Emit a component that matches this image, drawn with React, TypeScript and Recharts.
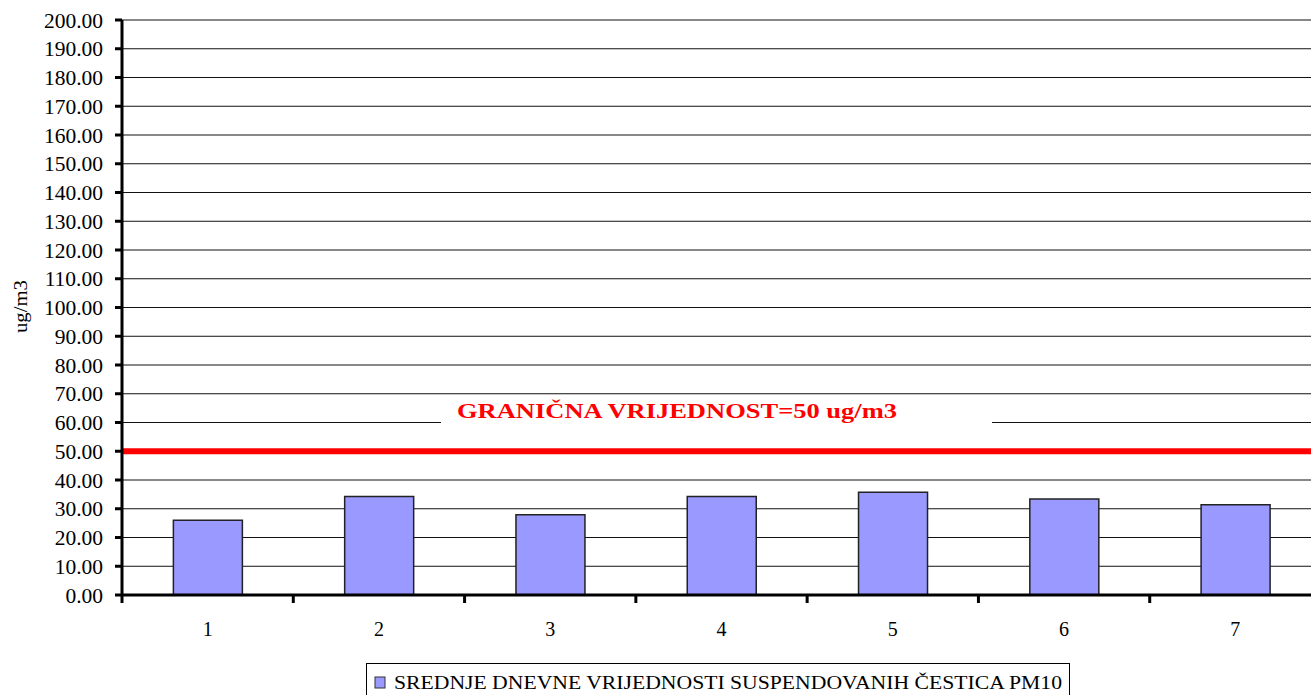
import {
  BarChart,
  Bar,
  XAxis,
  YAxis,
  CartesianGrid,
  ReferenceLine,
  Legend,
} from "recharts";

// days of the measuring week
const days = ["1", "2", "3", "4", "5", "6", "7"];
// mean daily PM10 concentration, ug/m3
const pm10 = [26.0, 34.3, 27.9, 34.3, 35.7, 33.4, 31.4];
const yTicks = [0, 10, 20, 30, 40, 50, 60, 70, 80, 90, 100, 110, 120, 130, 140, 150, 160, 170, 180, 190, 200];
const limitValue = 50;
const limitText = "GRANIČNA VRIJEDNOST=50 ug/m3";
const seriesName = "SREDNJE DNEVNE VRIJEDNOSTI SUSPENDOVANIH ČESTICA PM10";
const unitLabel = "ug/m3";

const data = days.map((d, i) => ({ day: d, pm10: pm10[i] }));

const serif = "'Liberation Serif', 'Times New Roman', serif";
const barFill = "#9999FF";

function DayTick(props: any) {
  const { x, y, payload, index, width } = props;
  const band = (width || 1199) / days.length;
  const left = x - band / 2;
  return (
    <g>
      <line x1={left} x2={left} y1={y} y2={y + 8} stroke="#000" strokeWidth={3} />
      {index === days.length - 1 && (
        <line x1={x + band / 2} x2={x + band / 2} y1={y} y2={y + 8} stroke="#000" strokeWidth={3} />
      )}
      <text x={x} y={y + 41} textAnchor="middle" fontFamily={serif} fontSize={20} fill="#000">
        {payload.value}
      </text>
    </g>
  );
}

function LimitLabel(props: any) {
  const { viewBox } = props;
  const x0 = viewBox.x;
  const y0 = viewBox.y;
  return (
    <g>
      <rect x={x0 + 319} y={y0 - 53} width={551} height={42} fill="#fff" />
      <text
        x={x0 + 335}
        y={y0 - 33}
        fontFamily={serif}
        fontWeight="bold"
        fontSize={20.5}
        textLength={440}
        lengthAdjust="spacingAndGlyphs"
        fill="#ff0000"
      >
        {limitText}
      </text>
    </g>
  );
}

function UnitLabel(props: any) {
  const { viewBox } = props;
  const cx = viewBox.x + 21;
  const cy = viewBox.y + viewBox.height / 2 - 1;
  return (
    <text
      x={cx}
      y={cy}
      transform={`rotate(-90 ${cx} ${cy})`}
      textAnchor="middle"
      dominantBaseline="central"
      fontFamily={serif}
      fontSize={18}
      textLength={53}
      lengthAdjust="spacingAndGlyphs"
      fill="#000"
    >
      {unitLabel}
    </text>
  );
}

function LegendBox() {
  return (
    <svg width={704} height={40} style={{ display: "block" }}>
      <rect x={0.5} y={0.5} width={703} height={60} fill="#fff" stroke="#000" strokeWidth={1} />
      <rect x={9} y={14} width={10} height={11} fill={barFill} stroke="#333" strokeWidth={1} />
      <text
        x={28}
        y={26}
        fontFamily={serif}
        fontSize={19}
        textLength={668}
        lengthAdjust="spacingAndGlyphs"
        fill="#000"
      >
        {seriesName}
      </text>
    </svg>
  );
}

export default function App() {
  return (
    <div
      style={{
        position: "fixed",
        left: 0,
        top: 0,
        width: 1311,
        height: 695,
        overflow: "hidden",
        background: "#fff",
      }}
    >
      <BarChart
        width={1340}
        height={720}
        data={data}
        margin={{ top: 20, right: 19, left: 0, bottom: 35 }}
        barCategoryGap="30%"
      >
        {/* horizontal grid only */}
        <CartesianGrid vertical={false} stroke="#111" strokeWidth={1} />

        <XAxis
          dataKey="day"
          height={50}
          tickLine={false}
          tickSize={0}
          tickMargin={0}
          axisLine={{ stroke: "#000", strokeWidth: 3 }}
          tick={<DayTick />}
          interval={0}
        />

        <YAxis
          width={122}
          domain={[0, 200]}
          ticks={yTicks}
          interval={0}
          tickFormatter={(v: number) => v.toFixed(2)}
          tickSize={7}
          tickMargin={12}
          tickLine={{ stroke: "#000", strokeWidth: 3 }}
          axisLine={{ stroke: "#000", strokeWidth: 3 }}
          tick={{ fontFamily: serif, fontSize: 21.5, fill: "#000" }}
          label={<UnitLabel />}
        />

        <Bar
          dataKey="pm10"
          name={seriesName}
          fill={barFill}
          stroke="#222"
          strokeWidth={1.5}
          isAnimationActive={false}
        />

        <ReferenceLine
          y={limitValue}
          stroke="#ff0000"
          strokeWidth={6}
          ifOverflow="visible"
          label={<LimitLabel />}
        />

        <Legend
          verticalAlign="bottom"
          content={<LegendBox />}
          wrapperStyle={{ position: "absolute", left: 366, top: 663, width: 704, height: 40 }}
        />
      </BarChart>
    </div>
  );
}
